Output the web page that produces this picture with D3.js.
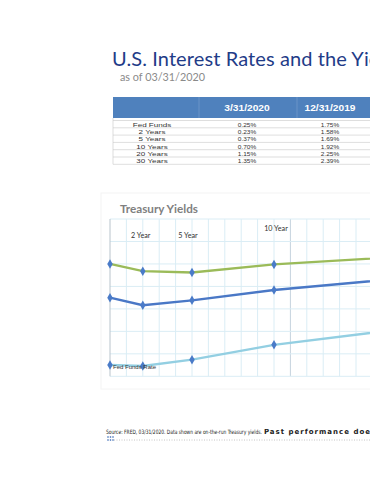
<!DOCTYPE html>
<html>
<head>
<meta charset="utf-8">
<script src="https://cdn.jsdelivr.net/npm/d3@7"></script>
<style>
  body { margin:0; background:#fff; }
  svg { display:block; overflow:hidden; }
</style>
</head>
<body>
<div id="page"></div>
<script>
var rowLabels = ["Fed Funds","2 Years","5 Years","10 Years","20 Years","30 Years"]
var colLabels = ["3/31/2020","12/31/2019"]
var maturities = [0,2,5,10,20,30]
var yields2020 = [0.25,0.23,0.37,0.70,1.15,1.35]
var yields2019 = [1.75,1.58,1.69,1.92,2.25,2.39]
var yieldsPrior = [2.50,2.34,2.31,2.49,2.71,2.88]
var tenorLabels = [{m:2,t:"2 Year"},{m:5,t:"5 Year"},{m:10,t:"10 Year"}]
var yTicks = [0,0.5,1,1.5,2,2.5,3,3.5]

var svg = d3.select("#page").append("svg").attr("width",370).attr("height",480)

// header
svg.append("text").text("U.S. Interest Rates and the Yield Curve")
  .attr("x",112).attr("y",66).attr("fill","#1f3c88").attr("letter-spacing",0.1)
  .attr("font-family","Lato, 'Open Sans', sans-serif").attr("font-size",20)
svg.append("text").text("as of 03/31/2020")
  .attr("x",120).attr("y",81).attr("fill","#8a8a8a")
  .attr("font-family","Lato, 'Open Sans', sans-serif").attr("font-size",10.8)

// table
var fmt = function(v){ return d3.format(".2f")(v)+"%" }
var colX = [152,247,330]
var rowH = 7.3
var tFont = "'Liberation Sans', Arial, sans-serif"
svg.append("rect").attr("x",113).attr("y",97).attr("width",300).attr("height",21).attr("fill","#4f81bd")
svg.selectAll(".colsep").data([199,297]).enter().append("line")
  .attr("x1",function(d){return d}).attr("x2",function(d){return d})
  .attr("y1",97).attr("y2",118).attr("stroke","#7ea2d2").attr("stroke-width",0.6)
svg.selectAll(".colhead").data(colLabels).enter().append("text")
  .text(function(d){return d})
  .attr("transform",function(d,i){return "translate("+colX[i+1]+",111) scale(1.2,1)"})
  .attr("text-anchor","middle").attr("fill","#fff").attr("font-weight","bold")
  .attr("font-family",tFont).attr("font-size",8.5)
svg.selectAll(".rowline").data(d3.range(rowLabels.length+1)).enter().append("line")
  .attr("x1",113).attr("x2",370)
  .attr("y1",function(d){return 120.5+d*rowH}).attr("y2",function(d){return 120.5+d*rowH})
  .attr("stroke","#c8c8c8").attr("stroke-width",0.6)
svg.append("line").attr("x1",113).attr("x2",113).attr("y1",118).attr("y2",120.5+6*rowH)
  .attr("stroke","#c8c8c8").attr("stroke-width",0.6)
var rows = svg.selectAll(".row").data(rowLabels).enter().append("g")
  .attr("transform",function(d,i){return "translate(0,"+(126.6+i*rowH)+")"})
  .attr("font-family",tFont).attr("font-size",6.2).attr("fill","#333")
rows.append("text").attr("transform","translate("+colX[0]+",0) scale(1.3,1)")
  .attr("text-anchor","middle").text(function(d){return d})
rows.append("text").attr("transform","translate("+colX[1]+",0) scale(1.05,1)")
  .attr("text-anchor","middle").text(function(d,i){return fmt(yields2020[i])})
rows.append("text").attr("transform","translate("+colX[2]+",0) scale(1.05,1)")
  .attr("text-anchor","middle").text(function(d,i){return fmt(yields2019[i])})

// chart panel
svg.append("rect").attr("x",101).attr("y",193).attr("width",300).attr("height",196)
  .attr("fill","none").attr("stroke","#f4f4f4")
svg.append("text").text("Treasury Yields").attr("x",120).attr("y",213)
  .attr("fill","#808080").attr("font-weight","bold")
  .attr("font-family","Lato, 'Open Sans', sans-serif").attr("font-size",11.7)

var x = d3.scaleLinear().domain([0,30]).range([110,110+30*16.4])
var y = d3.scaleLinear().domain([0,3.5]).range([376.3,219])

svg.append("g").selectAll("line").data(d3.range(1,31)).enter().append("line")
  .attr("x1",function(d){return x(d)}).attr("x2",function(d){return x(d)})
  .attr("y1",y(3.5)).attr("y2",y(0))
  .attr("stroke",function(d){return d==11?"#c5d3de":"#daedf5"}).attr("stroke-width",1)
svg.append("g").selectAll("line").data(yTicks).enter().append("line")
  .attr("x1",x(0)).attr("x2",370)
  .attr("y1",function(d){return y(d)}).attr("y2",function(d){return y(d)})
  .attr("stroke","#daedf5").attr("stroke-width",1)
svg.append("line").attr("x1",x(0)).attr("x2",x(0)).attr("y1",y(3.5)).attr("y2",y(0))
  .attr("stroke","#b9c4cc").attr("stroke-width",1)

svg.selectAll(".tenor").data(tenorLabels).enter().append("text")
  .text(function(d){return d.t})
  .attr("x",function(d){return x(d.m)+(d.m==5?-4:(d.m==10?2:-2))})
  .attr("y",function(d){return d.m==10?231:238})
  .attr("text-anchor","middle").attr("fill","#333")
  .attr("font-family","Lato, 'Open Sans', sans-serif").attr("font-size",7.2)

var series = [
  {vals:yieldsPrior,color:"#9bbb59"},
  {vals:yields2019,color:"#4a78c6"},
  {vals:yields2020,color:"#93cfe2"}
]
var line = d3.line().x(function(d){return x(d[0])}).y(function(d){return y(d[1])})
var diamond = d3.symbol().type(d3.symbolDiamond).size(26)
series.forEach(function(s){
  var pts = maturities.map(function(m,i){return [m,s.vals[i]]})
  svg.append("path").datum(pts).attr("d",line).attr("fill","none")
    .attr("stroke",s.color).attr("stroke-width",2.4)
  svg.selectAll(null).data(pts).enter().append("path").attr("d",diamond)
    .attr("transform",function(d){return "translate("+x(d[0])+","+y(d[1])+")"})
    .attr("fill","#4a7bc8")
})

svg.append("text").text("Fed Funds Rate").attr("x",x(0)+3).attr("y",369)
  .attr("fill","#333").attr("font-family","'Liberation Sans', sans-serif").attr("font-size",6)

// source note
var note = svg.append("text").attr("transform","translate(106,434) scale(0.82,1)")
  .attr("font-family","'DejaVu Sans Condensed', sans-serif").attr("font-size",6).attr("fill","#222")
  .text("Source: FRED, 03/31/2020. Data shown are on-the-run Treasury yields.")
var noteW = note.node().getComputedTextLength()*0.82
svg.append("text").attr("x",106+noteW+2).attr("y",434)
  .attr("font-family","'DejaVu Sans', sans-serif").attr("font-weight","bold")
  .attr("font-size",7).attr("letter-spacing",1).attr("fill","#222")
  .text("Past performance does not guarantee future results.")
svg.append("line").attr("x1",114).attr("x2",370).attr("y1",440).attr("y2",440)
  .attr("stroke","#c4c4c4").attr("stroke-width",1).attr("stroke-dasharray","1,1.5")
svg.selectAll(".dot").data([[108,437],[110.5,437],[113,437],[108,440],[110.5,440],[113,440]]).enter()
  .append("circle").attr("cx",function(d){return d[0]}).attr("cy",function(d){return d[1]})
  .attr("r",0.8).attr("fill","#2b5fb0")
</script>
</body>
</html>
